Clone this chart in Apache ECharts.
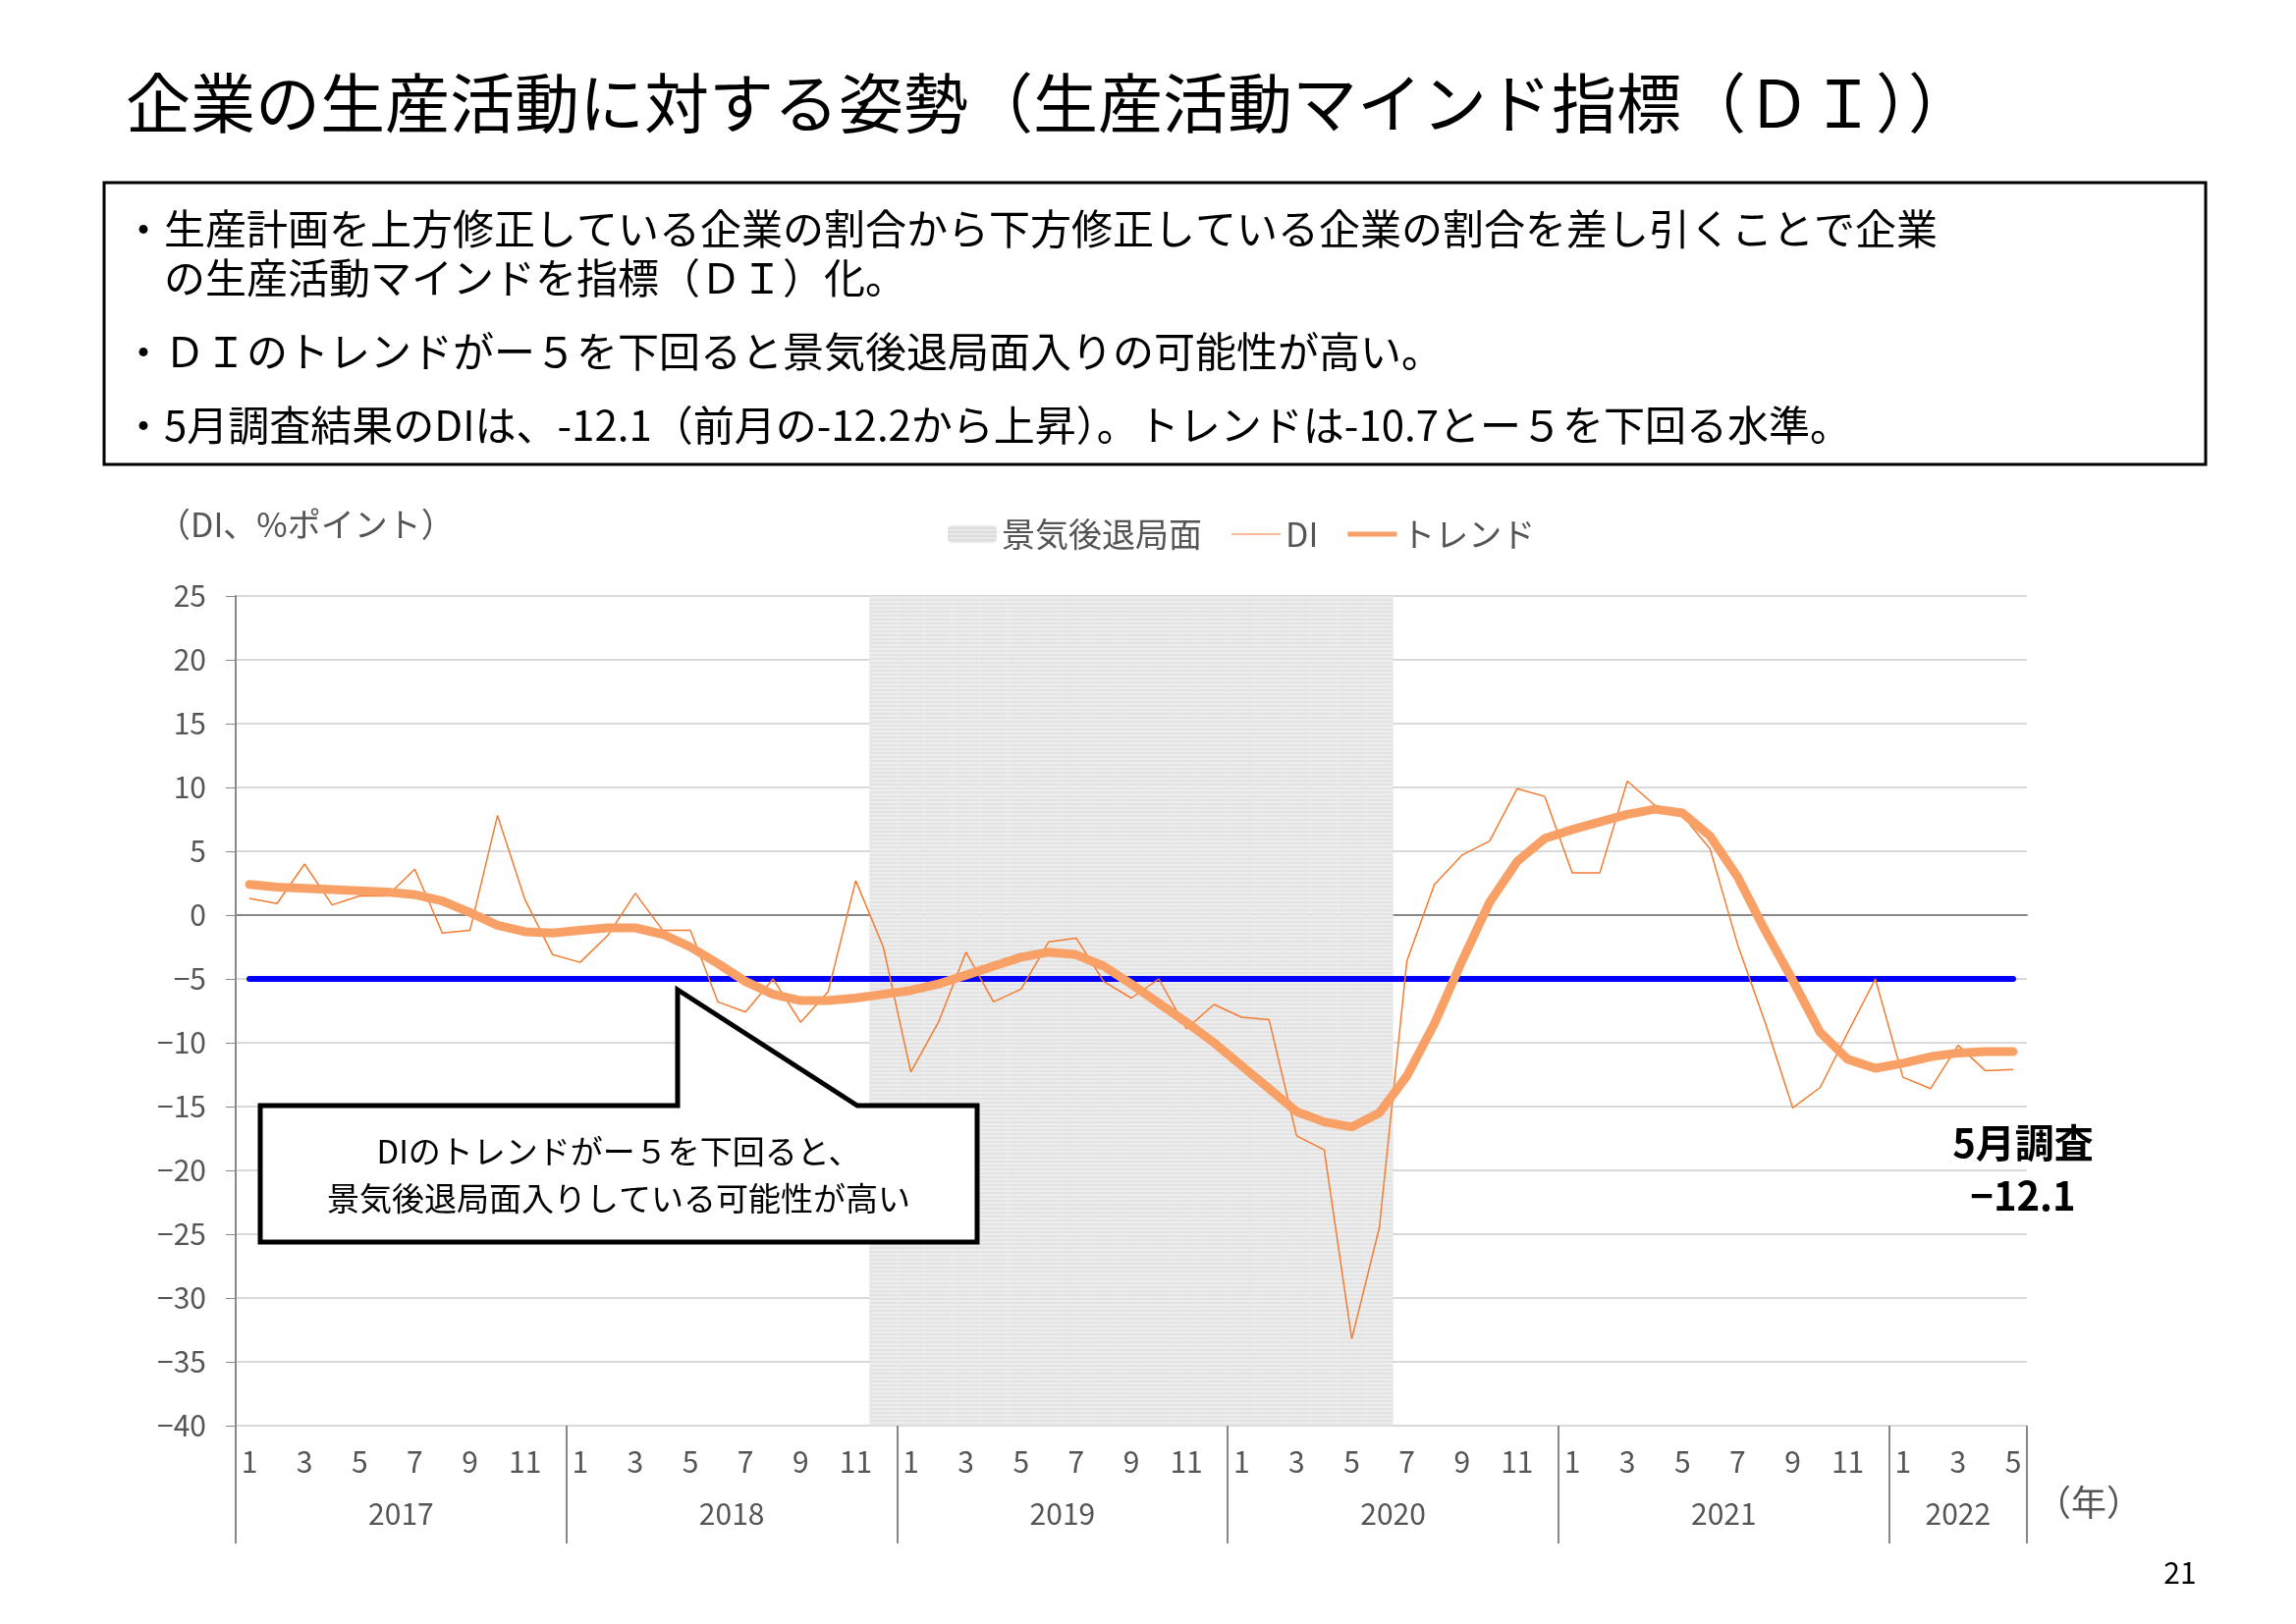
<!DOCTYPE html>
<html><head><meta charset="utf-8">
<script src="https://cdn.jsdelivr.net/npm/echarts@6/dist/echarts.min.js"></script>
<style>html,body{margin:0;padding:0;background:#fff}#c{width:2338px;height:1654px}</style>
</head><body><div id="c"></div>
<script>
const years = ['2017','2018','2019','2020','2021','2022'];
const monthsPerYear = [12,12,12,12,12,5];
const di = [1.3,0.9,4.0,0.8,1.5,1.5,3.6,-1.4,-1.2,7.8,1.2,-3.1,
  -3.7,-1.6,1.7,-1.2,-1.2,-6.8,-7.6,-5.0,-8.4,-6.0,2.7,-2.5,
  -12.3,-8.4,-2.9,-6.8,-5.8,-2.1,-1.8,-5.2,-6.5,-5.0,-8.9,-7.0,
  -8.0,-8.2,-17.3,-18.4,-33.2,-24.5,-3.6,2.4,4.7,5.8,9.9,9.3,
  3.3,3.3,10.5,8.6,7.8,5.2,-2.3,-8.4,-15.1,-13.5,-9.2,-5.0,
  -12.7,-13.6,-10.2,-12.2,-12.1];
const trend = [2.4,2.2,2.1,2.0,1.9,1.8,1.6,1.1,0.2,-0.8,-1.3,-1.4,
  -1.2,-1.0,-1.0,-1.5,-2.5,-3.8,-5.2,-6.2,-6.7,-6.7,-6.5,-6.2,
  -5.9,-5.4,-4.7,-4.0,-3.3,-2.9,-3.1,-4.0,-5.4,-6.9,-8.4,-10.0,
  -11.8,-13.6,-15.4,-16.2,-16.6,-15.5,-12.6,-8.5,-3.6,1.0,4.2,6.0,
  6.7,7.3,7.9,8.3,8.0,6.2,3.0,-1.2,-5.1,-9.2,-11.3,-12.0,
  -11.6,-11.1,-10.8,-10.7,-10.7];
const threshold = -5;
const recessionStart = '2018-12', recessionEnd = '2020-06';

const cats = [], monthLabels = [], yearLabelAt = {};
years.forEach((y,yi)=>{
  const start = cats.length;
  for(let m=1;m<=monthsPerYear[yi];m++){cats.push(y+'-'+String(m).padStart(2,'0'));monthLabels.push(String(m));}
  yearLabelAt[start + Math.floor(monthsPerYear[yi]/2)] = {y, full: monthsPerYear[yi]%2===0};
});
const recession = cats.map(c => (c>=recessionStart && c<=recessionEnd) ? 1 : null);
const thresholdLine = cats.map(()=>threshold);

const F = '"Noto Sans CJK JP", sans-serif';
const chart = echarts.init(document.getElementById('c'));
chart.setOption({
  animation:false,
  textStyle:{fontFamily:F},
  grid:{left:240,right:274,top:607,bottom:202},
  legend:{top:522,left:960,itemGap:30,itemWidth:50,itemHeight:18,
    textStyle:{fontSize:34,color:'#555',fontFamily:F},
    data:[{name:'景気後退局面',itemStyle:{color:'#ddd'}},{name:'DI',icon:'path://M0,9L50,9L50,10L0,10Z'},{name:'トレンド',icon:'path://M0,7L50,7L50,12L0,12Z'}]},
  xAxis:[
    {type:'category',data:cats,boundaryGap:true,
     axisLine:{lineStyle:{color:'#888',width:2}},axisTick:{show:false},
     axisLabel:{interval:1,fontSize:30,color:'#555',margin:22,formatter:(v,i)=>monthLabels[i]}},
    {type:'category',data:cats,boundaryGap:true,position:'bottom',
     axisLine:{show:false},
     axisTick:{show:true,interval:(i)=>i%12===0,length:120,lineStyle:{color:'#888',width:2},inside:false},
     axisLabel:{interval:0,margin:75,fontSize:30,color:'#555',
       formatter:(v,i)=>{const o=yearLabelAt[i]; if(!o) return ''; return o.full?'{s|'+o.y+'}':o.y;},
       rich:{s:{fontSize:30,color:'#555',padding:[0,28,0,0]}}}},
    {type:'category',data:cats,show:false,gridIndex:0}
  ],
  yAxis:[
    {type:'value',min:-40,max:25,interval:5,
     axisLine:{show:true,lineStyle:{color:'#888',width:2}},axisTick:{show:true,length:10,lineStyle:{color:'#888'}},
     splitLine:{lineStyle:{color:'#d9d9d9',width:2}},
     axisLabel:{fontSize:30,color:'#555',margin:30,formatter:v=>v<0?'−'+Math.abs(v):String(v)}},
    {type:'value',min:0,max:1,show:false}
  ],
  series:[
    {name:'景気後退局面',type:'bar',xAxisIndex:2,yAxisIndex:1,data:recession,barWidth:'100%',barCategoryGap:0,
     itemStyle:{color:'#e3e3e3',decal:{symbol:'rect',dashArrayX:[1,0],dashArrayY:[2,2],color:'rgba(255,255,255,0.35)',symbolSize:1}},silent:true},
    {name:'閾値',type:'line',data:thresholdLine,symbol:'none',lineStyle:{color:'#0000ff',width:6,cap:'round'},z:3},
    {name:'DI',type:'line',data:di,symbol:'none',lineStyle:{color:'#f47b30',width:1.5},itemStyle:{color:'#f47b30'},z:4},
    {name:'トレンド',type:'line',data:trend,symbol:'none',lineStyle:{color:'#f8a066',width:9,cap:'round'},itemStyle:{color:'#f8a066'},z:5}
  ],
  graphic:[
    {type:'text',left:128,top:72,style:{text:'企業の生産活動に対する姿勢（生産活動マインド指標（ＤＩ））',fontSize:66,fill:'#000',fontFamily:F}},
    {type:'rect',shape:{x:106,y:186,width:2140,height:287},style:{fill:'#fff',stroke:'#000',lineWidth:3}},
    {type:'text',left:125,top:208,style:{text:'・生産計画を上方修正している企業の割合から下方修正している企業の割合を差し引くことで企業\n　の生産活動マインドを指標（ＤＩ）化。',fontSize:42,lineHeight:50,fill:'#000',fontFamily:F}},
    {type:'text',left:125,top:337,style:{text:'・ＤＩのトレンドがー５を下回ると景気後退局面入りの可能性が高い。',fontSize:42,fill:'#000',fontFamily:F}},
    {type:'text',left:125,top:412,style:{text:'・5月調査結果のDIは、-12.1（前月の-12.2から上昇）。トレンドは-10.7とー５を下回る水準。',fontSize:42,fill:'#000',fontFamily:F}},
    {type:'text',left:160,top:517,style:{text:'（DI、%ポイント）',fontSize:34,fill:'#555',fontFamily:F}},
    {type:'polygon',shape:{points:[[265,1126],[690,1126],[690,1008],[873,1126],[995,1126],[995,1265],[265,1265]]},style:{fill:'#fff',stroke:'#000',lineWidth:5},z:100},
    {type:'text',x:630,y:1172,z:101,style:{text:'DIのトレンドがー５を下回ると、',fontSize:33,fill:'#000',align:'center',verticalAlign:'middle',fontFamily:F}},
    {type:'text',x:630,y:1220,z:101,style:{text:'景気後退局面入りしている可能性が高い',fontSize:33,fill:'#000',align:'center',verticalAlign:'middle',fontFamily:F}},
    {type:'text',x:2060,y:1164,z:101,style:{text:'5月調査',fontSize:40,fontWeight:'bold',fill:'#000',align:'center',verticalAlign:'middle',fontFamily:F}},
    {type:'text',x:2060,y:1218,z:101,style:{text:'−12.1',fontSize:40,fontWeight:'bold',fill:'#000',align:'center',verticalAlign:'middle',fontFamily:F}},
    {type:'text',x:2127,y:1530,style:{text:'（年）',fontSize:36,fill:'#555',align:'center',verticalAlign:'middle',fontFamily:F}},
    {type:'text',x:2220,y:1602,style:{text:'21',fontSize:30,fill:'#000',align:'center',verticalAlign:'middle',fontFamily:F}}
  ]
});
</script></body></html>
